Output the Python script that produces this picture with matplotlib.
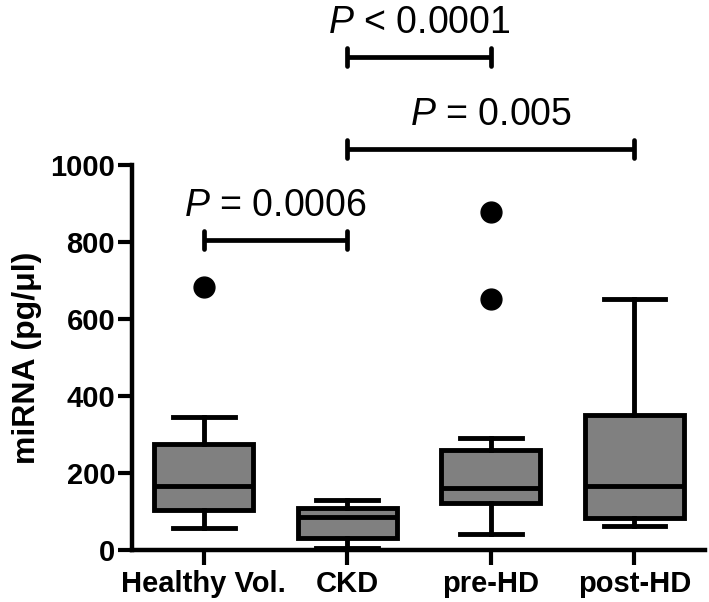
import matplotlib
matplotlib.use("Agg")
import matplotlib.pyplot as plt

plt.rcParams['font.family'] = ['Liberation Sans', 'DejaVu Sans']
plt.rcParams['mathtext.fontset'] = 'custom'
plt.rcParams['mathtext.it'] = 'Liberation Sans:italic'
plt.rcParams['mathtext.rm'] = 'Liberation Sans'

# groups and box statistics
groups = ["Healthy Vol.", "CKD", "pre-HD", "post-HD"]
whislo = [57, 5, 42, 63]
q1 = [104, 32, 122, 84]
med = [167, 86, 161, 166]
q3 = [277, 109, 260, 351]
whishi = [346, 131, 291, 653]
fliers = [[682], [], [877, 652], []]

# significance brackets: (group a, group b, height, label)
brackets = [
    (1, 2, 805, r"$\it{P}$ = 0.0006"),
    (2, 3, 1280, r"$\it{P}$ < 0.0001"),
    (2, 4, 1042, r"$\it{P}$ = 0.005"),
]

stats = []
for i in range(len(groups)):
    stats.append(dict(whislo=whislo[i], q1=q1[i], med=med[i], q3=q3[i],
                      whishi=whishi[i], fliers=fliers[i], label=groups[i]))

fig = plt.figure(figsize=(7.09, 6.02), dpi=100)
ax = fig.add_axes([0.186, 0.086, 0.808, 0.64])

lw = 3.5
ax.bxp(stats, positions=range(1, 5), widths=0.69, capwidths=0.43,
       patch_artist=True,
       boxprops=dict(facecolor='#808080', edgecolor='black', linewidth=lw),
       medianprops=dict(color='black', linewidth=lw),
       whiskerprops=dict(color='black', linewidth=lw),
       capprops=dict(color='black', linewidth=lw),
       flierprops=dict(marker='o', markerfacecolor='black', markeredgecolor='black',
                       markersize=15))
for art in ax.get_children():
    try:
        art.set_clip_on(False)
    except Exception:
        pass

# brackets
for a, b, h, lab in brackets:
    ax.plot([a, b], [h, h], color='black', lw=3.4, clip_on=False, solid_capstyle='butt')
    for x in (a, b):
        ax.plot([x, x], [h - 24, h + 24], color='black', lw=3.4, clip_on=False,
                solid_capstyle='round')
    ax.text((a + b) / 2, h + 42, lab, ha='center', va='bottom', fontsize=27,
            clip_on=False)

ax.set_xlim(0.5, 4.49)
ax.set_ylim(0, 1000)
ax.set_yticks([0, 200, 400, 600, 800, 1000])
ax.set_xticks(range(1, 5))
ax.set_xticklabels(groups)
ax.tick_params(axis='both', width=3, labelsize=21)
ax.tick_params(axis='y', length=10, pad=2)
ax.tick_params(axis='x', length=11, pad=3)
for lab in ax.get_xticklabels() + ax.get_yticklabels():
    lab.set_fontweight('bold')
ax.set_ylabel("miRNA (pg/μl)", fontsize=23, fontweight='bold', labelpad=6)

for s in ['top', 'right']:
    ax.spines[s].set_visible(False)
for s in ['left', 'bottom']:
    ax.spines[s].set_linewidth(3.2)

fig.savefig("out.png", dpi=100)
